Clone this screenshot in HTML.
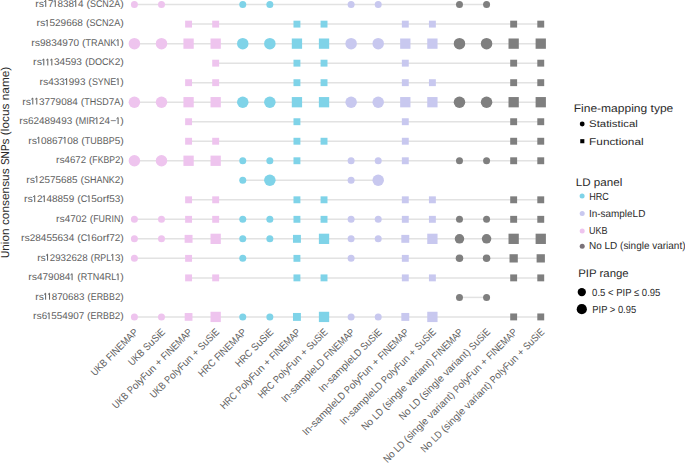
<!DOCTYPE html>
<html><head><meta charset="utf-8"><style>
html,body{margin:0;padding:0;background:#fff;}
svg{display:block;}
text{font-family:"Liberation Sans",sans-serif;text-rendering:geometricPrecision;}
.yl text{font-size:9.8px;fill:#5E5E5E;}
.yl path{fill:none;stroke:#5E5E5E;stroke-width:1.0;stroke-linejoin:miter;}
.xl text{font-size:10.2px;fill:#5E5E5E;}
.lg text{font-size:10.3px;fill:#2A2A2A;}
.lg text.t{font-size:11px;}
</style></head><body>
<svg width="685" height="463" viewBox="0 0 685 463">
<rect width="685" height="463" fill="#fff"/>
<g stroke="#E2E2E2" stroke-width="1.5">
<line x1="134.40" y1="4.60" x2="486.57" y2="4.60"/>
<line x1="188.58" y1="24.12" x2="540.75" y2="24.12"/>
<line x1="134.40" y1="43.64" x2="540.75" y2="43.64"/>
<line x1="215.67" y1="63.16" x2="540.75" y2="63.16"/>
<line x1="188.58" y1="82.68" x2="540.75" y2="82.68"/>
<line x1="134.40" y1="102.20" x2="540.75" y2="102.20"/>
<line x1="188.58" y1="121.72" x2="540.75" y2="121.72"/>
<line x1="188.58" y1="141.24" x2="540.75" y2="141.24"/>
<line x1="134.40" y1="160.76" x2="540.75" y2="160.76"/>
<line x1="242.76" y1="180.28" x2="378.21" y2="180.28"/>
<line x1="188.58" y1="199.80" x2="540.75" y2="199.80"/>
<line x1="134.40" y1="219.32" x2="540.75" y2="219.32"/>
<line x1="134.40" y1="238.84" x2="540.75" y2="238.84"/>
<line x1="134.40" y1="258.36" x2="540.75" y2="258.36"/>
<line x1="188.58" y1="277.88" x2="540.75" y2="277.88"/>
<line x1="459.48" y1="297.40" x2="486.57" y2="297.40"/>
<line x1="134.40" y1="316.92" x2="540.75" y2="316.92"/>
</g>
<g>
<circle cx="134.40" cy="4.60" r="3.50" fill="#EEC4EE"/>
<circle cx="161.49" cy="4.60" r="3.50" fill="#EEC4EE"/>
<circle cx="242.76" cy="4.60" r="3.50" fill="#7FD3E8"/>
<circle cx="269.85" cy="4.60" r="3.50" fill="#7FD3E8"/>
<circle cx="351.12" cy="4.60" r="3.50" fill="#C8C8EF"/>
<circle cx="378.21" cy="4.60" r="3.50" fill="#C8C8EF"/>
<circle cx="459.48" cy="4.60" r="3.50" fill="#7F7F7F"/>
<circle cx="486.57" cy="4.60" r="3.50" fill="#7F7F7F"/>
<rect x="185.13" y="20.67" width="6.90" height="6.90" fill="#EEC4EE"/>
<rect x="212.22" y="20.67" width="6.90" height="6.90" fill="#EEC4EE"/>
<rect x="293.49" y="20.67" width="6.90" height="6.90" fill="#7FD3E8"/>
<rect x="320.58" y="20.67" width="6.90" height="6.90" fill="#7FD3E8"/>
<rect x="401.85" y="20.67" width="6.90" height="6.90" fill="#C8C8EF"/>
<rect x="428.94" y="20.67" width="6.90" height="6.90" fill="#C8C8EF"/>
<rect x="510.21" y="20.67" width="6.90" height="6.90" fill="#7F7F7F"/>
<rect x="537.30" y="20.67" width="6.90" height="6.90" fill="#7F7F7F"/>
<circle cx="134.40" cy="43.64" r="5.75" fill="#EEC4EE"/>
<circle cx="161.49" cy="43.64" r="5.75" fill="#EEC4EE"/>
<rect x="183.43" y="38.49" width="10.30" height="10.30" fill="#EEC4EE"/>
<rect x="210.52" y="38.49" width="10.30" height="10.30" fill="#EEC4EE"/>
<circle cx="242.76" cy="43.64" r="5.75" fill="#7FD3E8"/>
<circle cx="269.85" cy="43.64" r="5.75" fill="#7FD3E8"/>
<rect x="291.79" y="38.49" width="10.30" height="10.30" fill="#7FD3E8"/>
<rect x="318.88" y="38.49" width="10.30" height="10.30" fill="#7FD3E8"/>
<circle cx="351.12" cy="43.64" r="5.75" fill="#C8C8EF"/>
<circle cx="378.21" cy="43.64" r="5.75" fill="#C8C8EF"/>
<rect x="400.15" y="38.49" width="10.30" height="10.30" fill="#C8C8EF"/>
<rect x="427.24" y="38.49" width="10.30" height="10.30" fill="#C8C8EF"/>
<circle cx="459.48" cy="43.64" r="5.75" fill="#7F7F7F"/>
<circle cx="486.57" cy="43.64" r="5.75" fill="#7F7F7F"/>
<rect x="508.51" y="38.49" width="10.30" height="10.30" fill="#7F7F7F"/>
<rect x="535.60" y="38.49" width="10.30" height="10.30" fill="#7F7F7F"/>
<rect x="212.22" y="59.71" width="6.90" height="6.90" fill="#EEC4EE"/>
<rect x="293.49" y="59.71" width="6.90" height="6.90" fill="#7FD3E8"/>
<rect x="320.58" y="59.71" width="6.90" height="6.90" fill="#7FD3E8"/>
<rect x="401.85" y="59.71" width="6.90" height="6.90" fill="#C8C8EF"/>
<rect x="510.21" y="59.71" width="6.90" height="6.90" fill="#7F7F7F"/>
<rect x="537.30" y="59.71" width="6.90" height="6.90" fill="#7F7F7F"/>
<rect x="185.13" y="79.23" width="6.90" height="6.90" fill="#EEC4EE"/>
<rect x="212.22" y="79.23" width="6.90" height="6.90" fill="#EEC4EE"/>
<rect x="293.49" y="79.23" width="6.90" height="6.90" fill="#7FD3E8"/>
<rect x="320.58" y="79.23" width="6.90" height="6.90" fill="#7FD3E8"/>
<rect x="401.85" y="79.23" width="6.90" height="6.90" fill="#C8C8EF"/>
<rect x="428.94" y="79.23" width="6.90" height="6.90" fill="#C8C8EF"/>
<rect x="510.21" y="79.23" width="6.90" height="6.90" fill="#7F7F7F"/>
<rect x="537.30" y="79.23" width="6.90" height="6.90" fill="#7F7F7F"/>
<circle cx="134.40" cy="102.20" r="5.75" fill="#EEC4EE"/>
<circle cx="161.49" cy="102.20" r="5.75" fill="#EEC4EE"/>
<rect x="183.43" y="97.05" width="10.30" height="10.30" fill="#EEC4EE"/>
<rect x="210.52" y="97.05" width="10.30" height="10.30" fill="#EEC4EE"/>
<circle cx="242.76" cy="102.20" r="5.75" fill="#7FD3E8"/>
<circle cx="269.85" cy="102.20" r="5.75" fill="#7FD3E8"/>
<rect x="291.79" y="97.05" width="10.30" height="10.30" fill="#7FD3E8"/>
<rect x="318.88" y="97.05" width="10.30" height="10.30" fill="#7FD3E8"/>
<circle cx="351.12" cy="102.20" r="5.75" fill="#C8C8EF"/>
<circle cx="378.21" cy="102.20" r="5.75" fill="#C8C8EF"/>
<rect x="400.15" y="97.05" width="10.30" height="10.30" fill="#C8C8EF"/>
<rect x="427.24" y="97.05" width="10.30" height="10.30" fill="#C8C8EF"/>
<circle cx="459.48" cy="102.20" r="5.75" fill="#7F7F7F"/>
<circle cx="486.57" cy="102.20" r="5.75" fill="#7F7F7F"/>
<rect x="508.51" y="97.05" width="10.30" height="10.30" fill="#7F7F7F"/>
<rect x="535.60" y="97.05" width="10.30" height="10.30" fill="#7F7F7F"/>
<rect x="185.13" y="118.27" width="6.90" height="6.90" fill="#EEC4EE"/>
<rect x="293.49" y="118.27" width="6.90" height="6.90" fill="#7FD3E8"/>
<rect x="401.85" y="118.27" width="6.90" height="6.90" fill="#C8C8EF"/>
<rect x="510.21" y="118.27" width="6.90" height="6.90" fill="#7F7F7F"/>
<rect x="537.30" y="118.27" width="6.90" height="6.90" fill="#7F7F7F"/>
<rect x="185.13" y="137.79" width="6.90" height="6.90" fill="#EEC4EE"/>
<rect x="212.22" y="137.79" width="6.90" height="6.90" fill="#EEC4EE"/>
<rect x="293.49" y="137.79" width="6.90" height="6.90" fill="#7FD3E8"/>
<rect x="320.58" y="137.79" width="6.90" height="6.90" fill="#7FD3E8"/>
<rect x="401.85" y="137.79" width="6.90" height="6.90" fill="#C8C8EF"/>
<rect x="510.21" y="137.79" width="6.90" height="6.90" fill="#7F7F7F"/>
<rect x="537.30" y="137.79" width="6.90" height="6.90" fill="#7F7F7F"/>
<circle cx="134.40" cy="160.76" r="5.75" fill="#EEC4EE"/>
<circle cx="161.49" cy="160.76" r="5.75" fill="#EEC4EE"/>
<rect x="183.43" y="155.61" width="10.30" height="10.30" fill="#EEC4EE"/>
<rect x="210.52" y="155.61" width="10.30" height="10.30" fill="#EEC4EE"/>
<circle cx="242.76" cy="160.76" r="3.50" fill="#7FD3E8"/>
<circle cx="269.85" cy="160.76" r="3.50" fill="#7FD3E8"/>
<rect x="293.49" y="157.31" width="6.90" height="6.90" fill="#7FD3E8"/>
<circle cx="351.12" cy="160.76" r="3.50" fill="#C8C8EF"/>
<circle cx="378.21" cy="160.76" r="3.50" fill="#C8C8EF"/>
<rect x="401.85" y="157.31" width="6.90" height="6.90" fill="#C8C8EF"/>
<circle cx="459.48" cy="160.76" r="3.50" fill="#7F7F7F"/>
<circle cx="486.57" cy="160.76" r="3.50" fill="#7F7F7F"/>
<rect x="510.21" y="157.31" width="6.90" height="6.90" fill="#7F7F7F"/>
<rect x="537.30" y="157.31" width="6.90" height="6.90" fill="#7F7F7F"/>
<circle cx="242.76" cy="180.28" r="3.50" fill="#7FD3E8"/>
<circle cx="269.85" cy="180.28" r="5.75" fill="#7FD3E8"/>
<circle cx="351.12" cy="180.28" r="3.50" fill="#C8C8EF"/>
<circle cx="378.21" cy="180.28" r="5.75" fill="#C8C8EF"/>
<rect x="185.13" y="196.35" width="6.90" height="6.90" fill="#EEC4EE"/>
<rect x="212.22" y="196.35" width="6.90" height="6.90" fill="#EEC4EE"/>
<rect x="293.49" y="196.35" width="6.90" height="6.90" fill="#7FD3E8"/>
<rect x="320.58" y="196.35" width="6.90" height="6.90" fill="#7FD3E8"/>
<rect x="401.85" y="196.35" width="6.90" height="6.90" fill="#C8C8EF"/>
<rect x="428.94" y="196.35" width="6.90" height="6.90" fill="#C8C8EF"/>
<rect x="510.21" y="196.35" width="6.90" height="6.90" fill="#7F7F7F"/>
<rect x="537.30" y="196.35" width="6.90" height="6.90" fill="#7F7F7F"/>
<circle cx="134.40" cy="219.32" r="3.50" fill="#EEC4EE"/>
<circle cx="161.49" cy="219.32" r="3.50" fill="#EEC4EE"/>
<rect x="185.13" y="215.87" width="6.90" height="6.90" fill="#EEC4EE"/>
<rect x="212.22" y="215.87" width="6.90" height="6.90" fill="#EEC4EE"/>
<circle cx="242.76" cy="219.32" r="3.50" fill="#7FD3E8"/>
<circle cx="269.85" cy="219.32" r="3.50" fill="#7FD3E8"/>
<rect x="293.49" y="215.87" width="6.90" height="6.90" fill="#7FD3E8"/>
<rect x="320.58" y="215.87" width="6.90" height="6.90" fill="#7FD3E8"/>
<circle cx="351.12" cy="219.32" r="3.50" fill="#C8C8EF"/>
<circle cx="378.21" cy="219.32" r="3.50" fill="#C8C8EF"/>
<rect x="401.85" y="215.87" width="6.90" height="6.90" fill="#C8C8EF"/>
<rect x="428.94" y="215.87" width="6.90" height="6.90" fill="#C8C8EF"/>
<circle cx="459.48" cy="219.32" r="3.50" fill="#7F7F7F"/>
<circle cx="486.57" cy="219.32" r="3.50" fill="#7F7F7F"/>
<rect x="510.21" y="215.87" width="6.90" height="6.90" fill="#7F7F7F"/>
<rect x="537.30" y="215.87" width="6.90" height="6.90" fill="#7F7F7F"/>
<circle cx="134.40" cy="238.84" r="3.50" fill="#EEC4EE"/>
<circle cx="161.49" cy="238.84" r="3.50" fill="#EEC4EE"/>
<rect x="184.62" y="234.88" width="7.92" height="7.92" fill="#EEC4EE"/>
<rect x="210.52" y="233.69" width="10.30" height="10.30" fill="#EEC4EE"/>
<circle cx="242.76" cy="238.84" r="3.50" fill="#7FD3E8"/>
<circle cx="269.85" cy="238.84" r="3.50" fill="#7FD3E8"/>
<rect x="292.98" y="234.88" width="7.92" height="7.92" fill="#7FD3E8"/>
<rect x="318.88" y="233.69" width="10.30" height="10.30" fill="#7FD3E8"/>
<circle cx="351.12" cy="238.84" r="3.50" fill="#C8C8EF"/>
<circle cx="378.21" cy="238.84" r="3.50" fill="#C8C8EF"/>
<rect x="401.34" y="234.88" width="7.92" height="7.92" fill="#C8C8EF"/>
<rect x="427.24" y="233.69" width="10.30" height="10.30" fill="#C8C8EF"/>
<circle cx="459.48" cy="238.84" r="4.75" fill="#7F7F7F"/>
<circle cx="486.57" cy="238.84" r="4.75" fill="#7F7F7F"/>
<rect x="508.51" y="233.69" width="10.30" height="10.30" fill="#7F7F7F"/>
<rect x="535.60" y="233.69" width="10.30" height="10.30" fill="#7F7F7F"/>
<circle cx="134.40" cy="258.36" r="3.50" fill="#EEC4EE"/>
<rect x="185.13" y="254.91" width="6.90" height="6.90" fill="#EEC4EE"/>
<circle cx="242.76" cy="258.36" r="3.50" fill="#7FD3E8"/>
<rect x="293.49" y="254.91" width="6.90" height="6.90" fill="#7FD3E8"/>
<circle cx="351.12" cy="258.36" r="3.50" fill="#C8C8EF"/>
<rect x="401.85" y="254.91" width="6.90" height="6.90" fill="#C8C8EF"/>
<circle cx="459.48" cy="258.36" r="3.75" fill="#7F7F7F"/>
<circle cx="486.57" cy="258.36" r="3.75" fill="#7F7F7F"/>
<rect x="509.52" y="254.22" width="8.28" height="8.28" fill="#7F7F7F"/>
<rect x="536.61" y="254.22" width="8.28" height="8.28" fill="#7F7F7F"/>
<rect x="185.13" y="274.43" width="6.90" height="6.90" fill="#EEC4EE"/>
<rect x="212.22" y="274.43" width="6.90" height="6.90" fill="#EEC4EE"/>
<rect x="293.49" y="274.43" width="6.90" height="6.90" fill="#7FD3E8"/>
<rect x="320.58" y="274.43" width="6.90" height="6.90" fill="#7FD3E8"/>
<rect x="401.85" y="274.43" width="6.90" height="6.90" fill="#C8C8EF"/>
<rect x="428.94" y="274.43" width="6.90" height="6.90" fill="#C8C8EF"/>
<rect x="510.21" y="274.43" width="6.90" height="6.90" fill="#7F7F7F"/>
<rect x="537.30" y="274.43" width="6.90" height="6.90" fill="#7F7F7F"/>
<circle cx="459.48" cy="297.40" r="3.50" fill="#7F7F7F"/>
<circle cx="486.57" cy="297.40" r="3.50" fill="#7F7F7F"/>
<circle cx="134.40" cy="316.92" r="3.50" fill="#EEC4EE"/>
<circle cx="161.49" cy="316.92" r="3.50" fill="#EEC4EE"/>
<rect x="184.71" y="313.05" width="7.74" height="7.74" fill="#EEC4EE"/>
<rect x="210.52" y="311.77" width="10.30" height="10.30" fill="#EEC4EE"/>
<circle cx="242.76" cy="316.92" r="3.50" fill="#7FD3E8"/>
<circle cx="269.85" cy="316.92" r="3.50" fill="#7FD3E8"/>
<rect x="292.98" y="312.96" width="7.92" height="7.92" fill="#7FD3E8"/>
<rect x="318.88" y="311.77" width="10.30" height="10.30" fill="#7FD3E8"/>
<circle cx="351.12" cy="316.92" r="3.50" fill="#C8C8EF"/>
<circle cx="378.21" cy="316.92" r="3.50" fill="#C8C8EF"/>
<rect x="401.34" y="312.96" width="7.92" height="7.92" fill="#C8C8EF"/>
<rect x="427.24" y="311.77" width="10.30" height="10.30" fill="#C8C8EF"/>
<rect x="510.21" y="313.47" width="6.90" height="6.90" fill="#7F7F7F"/>
<rect x="537.30" y="313.47" width="6.90" height="6.90" fill="#7F7F7F"/>
</g>
<g class="yl">
<text x="35.20" y="6.90" textLength="3.51" lengthAdjust="spacingAndGlyphs">r</text>
<text x="38.71" y="6.90" textLength="5.27" lengthAdjust="spacingAndGlyphs">s</text>
<path d="M45.76 6.90V0.40L44.16 1.70"/>
<text x="47.94" y="6.90" textLength="5.52" lengthAdjust="spacingAndGlyphs">7</text>
<path d="M55.25 6.90V0.40L53.65 1.70"/>
<text x="57.43" y="6.90" textLength="5.52" lengthAdjust="spacingAndGlyphs">8</text>
<text x="62.95" y="6.90" textLength="5.52" lengthAdjust="spacingAndGlyphs">3</text>
<text x="68.47" y="6.90" textLength="5.52" lengthAdjust="spacingAndGlyphs">8</text>
<path d="M75.77 6.90V0.40L74.17 1.70"/>
<text x="77.96" y="6.90" textLength="5.52" lengthAdjust="spacingAndGlyphs">4</text>
<text x="86.40" y="6.90" textLength="3.51" lengthAdjust="spacingAndGlyphs">(</text>
<text x="89.91" y="6.90" textLength="5.97" lengthAdjust="spacingAndGlyphs">S</text>
<text x="95.88" y="6.90" textLength="6.46" lengthAdjust="spacingAndGlyphs">C</text>
<text x="102.34" y="6.90" textLength="6.46" lengthAdjust="spacingAndGlyphs">N</text>
<text x="108.80" y="6.90" textLength="5.52" lengthAdjust="spacingAndGlyphs">2</text>
<text x="114.32" y="6.90" textLength="5.97" lengthAdjust="spacingAndGlyphs">A</text>
<text x="120.29" y="6.90" textLength="3.51" lengthAdjust="spacingAndGlyphs">)</text>
<text x="36.50" y="26.42" textLength="3.55" lengthAdjust="spacingAndGlyphs">r</text>
<text x="40.05" y="26.42" textLength="5.33" lengthAdjust="spacingAndGlyphs">s</text>
<path d="M47.20 26.42V19.92L45.60 21.22"/>
<text x="49.41" y="26.42" textLength="5.59" lengthAdjust="spacingAndGlyphs">5</text>
<text x="55.00" y="26.42" textLength="5.59" lengthAdjust="spacingAndGlyphs">2</text>
<text x="60.59" y="26.42" textLength="5.59" lengthAdjust="spacingAndGlyphs">9</text>
<text x="66.18" y="26.42" textLength="5.59" lengthAdjust="spacingAndGlyphs">6</text>
<text x="71.77" y="26.42" textLength="5.59" lengthAdjust="spacingAndGlyphs">6</text>
<text x="77.36" y="26.42" textLength="5.59" lengthAdjust="spacingAndGlyphs">8</text>
<text x="85.91" y="26.42" textLength="3.55" lengthAdjust="spacingAndGlyphs">(</text>
<text x="89.46" y="26.42" textLength="6.05" lengthAdjust="spacingAndGlyphs">S</text>
<text x="95.51" y="26.42" textLength="6.55" lengthAdjust="spacingAndGlyphs">C</text>
<text x="102.06" y="26.42" textLength="6.55" lengthAdjust="spacingAndGlyphs">N</text>
<text x="108.61" y="26.42" textLength="5.59" lengthAdjust="spacingAndGlyphs">2</text>
<text x="114.20" y="26.42" textLength="6.05" lengthAdjust="spacingAndGlyphs">A</text>
<text x="120.25" y="26.42" textLength="3.55" lengthAdjust="spacingAndGlyphs">)</text>
<text x="31.20" y="45.94" textLength="3.54" lengthAdjust="spacingAndGlyphs">r</text>
<text x="34.74" y="45.94" textLength="5.32" lengthAdjust="spacingAndGlyphs">s</text>
<text x="40.06" y="45.94" textLength="5.58" lengthAdjust="spacingAndGlyphs">9</text>
<text x="45.64" y="45.94" textLength="5.58" lengthAdjust="spacingAndGlyphs">8</text>
<text x="51.21" y="45.94" textLength="5.58" lengthAdjust="spacingAndGlyphs">3</text>
<text x="56.79" y="45.94" textLength="5.58" lengthAdjust="spacingAndGlyphs">4</text>
<text x="62.37" y="45.94" textLength="5.58" lengthAdjust="spacingAndGlyphs">9</text>
<text x="67.94" y="45.94" textLength="5.58" lengthAdjust="spacingAndGlyphs">7</text>
<text x="73.52" y="45.94" textLength="5.58" lengthAdjust="spacingAndGlyphs">0</text>
<text x="82.05" y="45.94" textLength="3.54" lengthAdjust="spacingAndGlyphs">(</text>
<text x="85.59" y="45.94" textLength="5.52" lengthAdjust="spacingAndGlyphs">T</text>
<text x="91.12" y="45.94" textLength="6.53" lengthAdjust="spacingAndGlyphs">R</text>
<text x="97.65" y="45.94" textLength="6.03" lengthAdjust="spacingAndGlyphs">A</text>
<text x="103.68" y="45.94" textLength="6.53" lengthAdjust="spacingAndGlyphs">N</text>
<text x="110.21" y="45.94" textLength="6.03" lengthAdjust="spacingAndGlyphs">K</text>
<path d="M118.05 45.94V39.44L116.45 40.74"/>
<text x="120.26" y="45.94" textLength="3.54" lengthAdjust="spacingAndGlyphs">)</text>
<text x="33.10" y="65.46" textLength="3.55" lengthAdjust="spacingAndGlyphs">r</text>
<text x="36.65" y="65.46" textLength="5.33" lengthAdjust="spacingAndGlyphs">s</text>
<path d="M43.79 65.46V58.96L42.19 60.26"/>
<path d="M47.81 65.46V58.96L46.21 60.26"/>
<path d="M51.83 65.46V58.96L50.23 60.26"/>
<text x="54.04" y="65.46" textLength="5.59" lengthAdjust="spacingAndGlyphs">3</text>
<text x="59.62" y="65.46" textLength="5.59" lengthAdjust="spacingAndGlyphs">4</text>
<text x="65.21" y="65.46" textLength="5.59" lengthAdjust="spacingAndGlyphs">5</text>
<text x="70.80" y="65.46" textLength="5.59" lengthAdjust="spacingAndGlyphs">9</text>
<text x="76.38" y="65.46" textLength="5.59" lengthAdjust="spacingAndGlyphs">3</text>
<text x="84.93" y="65.46" textLength="3.55" lengthAdjust="spacingAndGlyphs">(</text>
<text x="88.48" y="65.46" textLength="6.54" lengthAdjust="spacingAndGlyphs">D</text>
<text x="95.03" y="65.46" textLength="7.05" lengthAdjust="spacingAndGlyphs">O</text>
<text x="102.08" y="65.46" textLength="6.54" lengthAdjust="spacingAndGlyphs">C</text>
<text x="108.62" y="65.46" textLength="6.04" lengthAdjust="spacingAndGlyphs">K</text>
<text x="114.66" y="65.46" textLength="5.59" lengthAdjust="spacingAndGlyphs">2</text>
<text x="120.25" y="65.46" textLength="3.55" lengthAdjust="spacingAndGlyphs">)</text>
<text x="39.50" y="84.98" textLength="3.51" lengthAdjust="spacingAndGlyphs">r</text>
<text x="43.01" y="84.98" textLength="5.28" lengthAdjust="spacingAndGlyphs">s</text>
<text x="48.29" y="84.98" textLength="5.53" lengthAdjust="spacingAndGlyphs">4</text>
<text x="53.82" y="84.98" textLength="5.53" lengthAdjust="spacingAndGlyphs">3</text>
<text x="59.35" y="84.98" textLength="5.53" lengthAdjust="spacingAndGlyphs">3</text>
<path d="M66.67 84.98V78.48L65.07 79.78"/>
<text x="68.85" y="84.98" textLength="5.53" lengthAdjust="spacingAndGlyphs">9</text>
<text x="74.38" y="84.98" textLength="5.53" lengthAdjust="spacingAndGlyphs">9</text>
<text x="79.91" y="84.98" textLength="5.53" lengthAdjust="spacingAndGlyphs">3</text>
<text x="88.37" y="84.98" textLength="3.51" lengthAdjust="spacingAndGlyphs">(</text>
<text x="91.89" y="84.98" textLength="5.98" lengthAdjust="spacingAndGlyphs">S</text>
<text x="97.87" y="84.98" textLength="5.98" lengthAdjust="spacingAndGlyphs">Y</text>
<text x="103.85" y="84.98" textLength="6.48" lengthAdjust="spacingAndGlyphs">N</text>
<text x="110.33" y="84.98" textLength="5.98" lengthAdjust="spacingAndGlyphs">E</text>
<path d="M118.10 84.98V78.48L116.50 79.78"/>
<text x="120.29" y="84.98" textLength="3.51" lengthAdjust="spacingAndGlyphs">)</text>
<text x="22.20" y="104.50" textLength="3.52" lengthAdjust="spacingAndGlyphs">r</text>
<text x="25.72" y="104.50" textLength="5.29" lengthAdjust="spacingAndGlyphs">s</text>
<path d="M32.81 104.50V98.00L31.21 99.30"/>
<path d="M36.80 104.50V98.00L35.20 99.30"/>
<text x="38.99" y="104.50" textLength="5.54" lengthAdjust="spacingAndGlyphs">3</text>
<text x="44.53" y="104.50" textLength="5.54" lengthAdjust="spacingAndGlyphs">7</text>
<text x="50.08" y="104.50" textLength="5.54" lengthAdjust="spacingAndGlyphs">7</text>
<text x="55.62" y="104.50" textLength="5.54" lengthAdjust="spacingAndGlyphs">9</text>
<text x="61.16" y="104.50" textLength="5.54" lengthAdjust="spacingAndGlyphs">0</text>
<text x="66.71" y="104.50" textLength="5.54" lengthAdjust="spacingAndGlyphs">8</text>
<text x="72.25" y="104.50" textLength="5.54" lengthAdjust="spacingAndGlyphs">4</text>
<text x="80.73" y="104.50" textLength="3.52" lengthAdjust="spacingAndGlyphs">(</text>
<text x="84.26" y="104.50" textLength="5.49" lengthAdjust="spacingAndGlyphs">T</text>
<text x="89.75" y="104.50" textLength="6.49" lengthAdjust="spacingAndGlyphs">H</text>
<text x="96.24" y="104.50" textLength="6.00" lengthAdjust="spacingAndGlyphs">S</text>
<text x="102.24" y="104.50" textLength="6.49" lengthAdjust="spacingAndGlyphs">D</text>
<text x="108.74" y="104.50" textLength="5.54" lengthAdjust="spacingAndGlyphs">7</text>
<text x="114.28" y="104.50" textLength="6.00" lengthAdjust="spacingAndGlyphs">A</text>
<text x="120.28" y="104.50" textLength="3.52" lengthAdjust="spacingAndGlyphs">)</text>
<text x="19.20" y="124.02" textLength="3.51" lengthAdjust="spacingAndGlyphs">r</text>
<text x="22.71" y="124.02" textLength="5.28" lengthAdjust="spacingAndGlyphs">s</text>
<text x="27.99" y="124.02" textLength="5.53" lengthAdjust="spacingAndGlyphs">6</text>
<text x="33.52" y="124.02" textLength="5.53" lengthAdjust="spacingAndGlyphs">2</text>
<text x="39.05" y="124.02" textLength="5.53" lengthAdjust="spacingAndGlyphs">4</text>
<text x="44.58" y="124.02" textLength="5.53" lengthAdjust="spacingAndGlyphs">8</text>
<text x="50.11" y="124.02" textLength="5.53" lengthAdjust="spacingAndGlyphs">9</text>
<text x="55.64" y="124.02" textLength="5.53" lengthAdjust="spacingAndGlyphs">4</text>
<text x="61.17" y="124.02" textLength="5.53" lengthAdjust="spacingAndGlyphs">9</text>
<text x="66.69" y="124.02" textLength="5.53" lengthAdjust="spacingAndGlyphs">3</text>
<text x="75.16" y="124.02" textLength="3.51" lengthAdjust="spacingAndGlyphs">(</text>
<text x="78.67" y="124.02" textLength="7.47" lengthAdjust="spacingAndGlyphs">M</text>
<text x="86.14" y="124.02" textLength="2.49" lengthAdjust="spacingAndGlyphs">I</text>
<text x="88.63" y="124.02" textLength="6.48" lengthAdjust="spacingAndGlyphs">R</text>
<path d="M96.90 124.02V117.52L95.30 118.82"/>
<text x="99.09" y="124.02" textLength="5.53" lengthAdjust="spacingAndGlyphs">2</text>
<text x="104.62" y="124.02" textLength="5.53" lengthAdjust="spacingAndGlyphs">4</text>
<text x="110.15" y="124.02" textLength="6.16" lengthAdjust="spacingAndGlyphs">−</text>
<path d="M118.10 124.02V117.52L116.50 118.82"/>
<text x="120.29" y="124.02" textLength="3.51" lengthAdjust="spacingAndGlyphs">)</text>
<text x="28.20" y="143.54" textLength="3.52" lengthAdjust="spacingAndGlyphs">r</text>
<text x="31.72" y="143.54" textLength="5.29" lengthAdjust="spacingAndGlyphs">s</text>
<path d="M38.81 143.54V137.04L37.21 138.34"/>
<text x="41.01" y="143.54" textLength="5.55" lengthAdjust="spacingAndGlyphs">0</text>
<text x="46.55" y="143.54" textLength="5.55" lengthAdjust="spacingAndGlyphs">8</text>
<text x="52.10" y="143.54" textLength="5.55" lengthAdjust="spacingAndGlyphs">6</text>
<text x="57.64" y="143.54" textLength="5.55" lengthAdjust="spacingAndGlyphs">7</text>
<path d="M64.99 143.54V137.04L63.39 138.34"/>
<text x="67.18" y="143.54" textLength="5.55" lengthAdjust="spacingAndGlyphs">0</text>
<text x="72.73" y="143.54" textLength="5.55" lengthAdjust="spacingAndGlyphs">8</text>
<text x="81.21" y="143.54" textLength="3.52" lengthAdjust="spacingAndGlyphs">(</text>
<text x="84.74" y="143.54" textLength="5.50" lengthAdjust="spacingAndGlyphs">T</text>
<text x="90.23" y="143.54" textLength="6.50" lengthAdjust="spacingAndGlyphs">U</text>
<text x="96.73" y="143.54" textLength="6.00" lengthAdjust="spacingAndGlyphs">B</text>
<text x="102.73" y="143.54" textLength="6.00" lengthAdjust="spacingAndGlyphs">B</text>
<text x="108.73" y="143.54" textLength="6.00" lengthAdjust="spacingAndGlyphs">P</text>
<text x="114.73" y="143.54" textLength="5.55" lengthAdjust="spacingAndGlyphs">5</text>
<text x="120.28" y="143.54" textLength="3.52" lengthAdjust="spacingAndGlyphs">)</text>
<text x="56.10" y="163.06" textLength="3.41" lengthAdjust="spacingAndGlyphs">r</text>
<text x="59.51" y="163.06" textLength="5.12" lengthAdjust="spacingAndGlyphs">s</text>
<text x="64.62" y="163.06" textLength="5.36" lengthAdjust="spacingAndGlyphs">4</text>
<text x="69.98" y="163.06" textLength="5.36" lengthAdjust="spacingAndGlyphs">6</text>
<text x="75.35" y="163.06" textLength="5.36" lengthAdjust="spacingAndGlyphs">7</text>
<text x="80.71" y="163.06" textLength="5.36" lengthAdjust="spacingAndGlyphs">2</text>
<text x="88.91" y="163.06" textLength="3.41" lengthAdjust="spacingAndGlyphs">(</text>
<text x="92.32" y="163.06" textLength="5.31" lengthAdjust="spacingAndGlyphs">F</text>
<text x="97.63" y="163.06" textLength="5.80" lengthAdjust="spacingAndGlyphs">K</text>
<text x="103.43" y="163.06" textLength="5.80" lengthAdjust="spacingAndGlyphs">B</text>
<text x="109.23" y="163.06" textLength="5.80" lengthAdjust="spacingAndGlyphs">P</text>
<text x="115.03" y="163.06" textLength="5.36" lengthAdjust="spacingAndGlyphs">2</text>
<text x="120.39" y="163.06" textLength="3.41" lengthAdjust="spacingAndGlyphs">)</text>
<text x="26.30" y="182.58" textLength="3.50" lengthAdjust="spacingAndGlyphs">r</text>
<text x="29.80" y="182.58" textLength="5.26" lengthAdjust="spacingAndGlyphs">s</text>
<path d="M36.84 182.58V176.08L35.24 177.38"/>
<text x="39.02" y="182.58" textLength="5.51" lengthAdjust="spacingAndGlyphs">2</text>
<text x="44.53" y="182.58" textLength="5.51" lengthAdjust="spacingAndGlyphs">5</text>
<text x="50.04" y="182.58" textLength="5.51" lengthAdjust="spacingAndGlyphs">7</text>
<text x="55.55" y="182.58" textLength="5.51" lengthAdjust="spacingAndGlyphs">5</text>
<text x="61.06" y="182.58" textLength="5.51" lengthAdjust="spacingAndGlyphs">6</text>
<text x="66.56" y="182.58" textLength="5.51" lengthAdjust="spacingAndGlyphs">8</text>
<text x="72.07" y="182.58" textLength="5.51" lengthAdjust="spacingAndGlyphs">5</text>
<text x="80.50" y="182.58" textLength="3.50" lengthAdjust="spacingAndGlyphs">(</text>
<text x="84.00" y="182.58" textLength="5.96" lengthAdjust="spacingAndGlyphs">S</text>
<text x="89.96" y="182.58" textLength="6.45" lengthAdjust="spacingAndGlyphs">H</text>
<text x="96.42" y="182.58" textLength="5.96" lengthAdjust="spacingAndGlyphs">A</text>
<text x="102.38" y="182.58" textLength="6.45" lengthAdjust="spacingAndGlyphs">N</text>
<text x="108.83" y="182.58" textLength="5.96" lengthAdjust="spacingAndGlyphs">K</text>
<text x="114.79" y="182.58" textLength="5.51" lengthAdjust="spacingAndGlyphs">2</text>
<text x="120.30" y="182.58" textLength="3.50" lengthAdjust="spacingAndGlyphs">)</text>
<text x="24.10" y="202.10" textLength="3.53" lengthAdjust="spacingAndGlyphs">r</text>
<text x="27.63" y="202.10" textLength="5.30" lengthAdjust="spacingAndGlyphs">s</text>
<path d="M34.73 202.10V195.60L33.13 196.90"/>
<text x="36.93" y="202.10" textLength="5.55" lengthAdjust="spacingAndGlyphs">2</text>
<path d="M44.28 202.10V195.60L42.68 196.90"/>
<text x="46.48" y="202.10" textLength="5.55" lengthAdjust="spacingAndGlyphs">4</text>
<text x="52.03" y="202.10" textLength="5.55" lengthAdjust="spacingAndGlyphs">8</text>
<text x="57.59" y="202.10" textLength="5.55" lengthAdjust="spacingAndGlyphs">8</text>
<text x="63.14" y="202.10" textLength="5.55" lengthAdjust="spacingAndGlyphs">5</text>
<text x="68.70" y="202.10" textLength="5.55" lengthAdjust="spacingAndGlyphs">9</text>
<text x="77.20" y="202.10" textLength="3.53" lengthAdjust="spacingAndGlyphs">(</text>
<text x="80.73" y="202.10" textLength="6.51" lengthAdjust="spacingAndGlyphs">C</text>
<path d="M89.04 202.10V195.60L87.44 196.90"/>
<text x="91.23" y="202.10" textLength="5.55" lengthAdjust="spacingAndGlyphs">5</text>
<text x="96.79" y="202.10" textLength="5.90" lengthAdjust="spacingAndGlyphs">o</text>
<text x="102.68" y="202.10" textLength="3.53" lengthAdjust="spacingAndGlyphs">r</text>
<text x="106.21" y="202.10" textLength="2.95" lengthAdjust="spacingAndGlyphs">f</text>
<text x="109.16" y="202.10" textLength="5.55" lengthAdjust="spacingAndGlyphs">5</text>
<text x="114.71" y="202.10" textLength="5.55" lengthAdjust="spacingAndGlyphs">3</text>
<text x="120.27" y="202.10" textLength="3.53" lengthAdjust="spacingAndGlyphs">)</text>
<text x="56.10" y="221.62" textLength="3.48" lengthAdjust="spacingAndGlyphs">r</text>
<text x="59.58" y="221.62" textLength="5.23" lengthAdjust="spacingAndGlyphs">s</text>
<text x="64.82" y="221.62" textLength="5.48" lengthAdjust="spacingAndGlyphs">4</text>
<text x="70.30" y="221.62" textLength="5.48" lengthAdjust="spacingAndGlyphs">7</text>
<text x="75.78" y="221.62" textLength="5.48" lengthAdjust="spacingAndGlyphs">0</text>
<text x="81.27" y="221.62" textLength="5.48" lengthAdjust="spacingAndGlyphs">2</text>
<text x="89.66" y="221.62" textLength="3.48" lengthAdjust="spacingAndGlyphs">(</text>
<text x="93.14" y="221.62" textLength="5.43" lengthAdjust="spacingAndGlyphs">F</text>
<text x="98.57" y="221.62" textLength="6.42" lengthAdjust="spacingAndGlyphs">U</text>
<text x="105.00" y="221.62" textLength="6.42" lengthAdjust="spacingAndGlyphs">R</text>
<text x="111.42" y="221.62" textLength="2.47" lengthAdjust="spacingAndGlyphs">I</text>
<text x="113.89" y="221.62" textLength="6.42" lengthAdjust="spacingAndGlyphs">N</text>
<text x="120.32" y="221.62" textLength="3.48" lengthAdjust="spacingAndGlyphs">)</text>
<text x="20.90" y="241.14" textLength="3.53" lengthAdjust="spacingAndGlyphs">r</text>
<text x="24.43" y="241.14" textLength="5.30" lengthAdjust="spacingAndGlyphs">s</text>
<text x="29.74" y="241.14" textLength="5.56" lengthAdjust="spacingAndGlyphs">2</text>
<text x="35.30" y="241.14" textLength="5.56" lengthAdjust="spacingAndGlyphs">8</text>
<text x="40.86" y="241.14" textLength="5.56" lengthAdjust="spacingAndGlyphs">4</text>
<text x="46.42" y="241.14" textLength="5.56" lengthAdjust="spacingAndGlyphs">5</text>
<text x="51.98" y="241.14" textLength="5.56" lengthAdjust="spacingAndGlyphs">5</text>
<text x="57.54" y="241.14" textLength="5.56" lengthAdjust="spacingAndGlyphs">6</text>
<text x="63.09" y="241.14" textLength="5.56" lengthAdjust="spacingAndGlyphs">3</text>
<text x="68.65" y="241.14" textLength="5.56" lengthAdjust="spacingAndGlyphs">4</text>
<text x="77.16" y="241.14" textLength="3.53" lengthAdjust="spacingAndGlyphs">(</text>
<text x="80.69" y="241.14" textLength="6.51" lengthAdjust="spacingAndGlyphs">C</text>
<path d="M89.01 241.14V234.64L87.41 235.94"/>
<text x="91.21" y="241.14" textLength="5.56" lengthAdjust="spacingAndGlyphs">6</text>
<text x="96.77" y="241.14" textLength="5.90" lengthAdjust="spacingAndGlyphs">o</text>
<text x="102.67" y="241.14" textLength="3.53" lengthAdjust="spacingAndGlyphs">r</text>
<text x="106.20" y="241.14" textLength="2.95" lengthAdjust="spacingAndGlyphs">f</text>
<text x="109.15" y="241.14" textLength="5.56" lengthAdjust="spacingAndGlyphs">7</text>
<text x="114.71" y="241.14" textLength="5.56" lengthAdjust="spacingAndGlyphs">2</text>
<text x="120.27" y="241.14" textLength="3.53" lengthAdjust="spacingAndGlyphs">)</text>
<text x="37.20" y="260.66" textLength="3.44" lengthAdjust="spacingAndGlyphs">r</text>
<text x="40.64" y="260.66" textLength="5.17" lengthAdjust="spacingAndGlyphs">s</text>
<path d="M47.57 260.66V254.16L45.97 255.46"/>
<text x="49.71" y="260.66" textLength="5.42" lengthAdjust="spacingAndGlyphs">2</text>
<text x="55.13" y="260.66" textLength="5.42" lengthAdjust="spacingAndGlyphs">9</text>
<text x="60.54" y="260.66" textLength="5.42" lengthAdjust="spacingAndGlyphs">3</text>
<text x="65.96" y="260.66" textLength="5.42" lengthAdjust="spacingAndGlyphs">2</text>
<text x="71.38" y="260.66" textLength="5.42" lengthAdjust="spacingAndGlyphs">6</text>
<text x="76.80" y="260.66" textLength="5.42" lengthAdjust="spacingAndGlyphs">2</text>
<text x="82.21" y="260.66" textLength="5.42" lengthAdjust="spacingAndGlyphs">8</text>
<text x="90.50" y="260.66" textLength="3.44" lengthAdjust="spacingAndGlyphs">(</text>
<text x="93.95" y="260.66" textLength="6.35" lengthAdjust="spacingAndGlyphs">R</text>
<text x="100.29" y="260.66" textLength="5.86" lengthAdjust="spacingAndGlyphs">P</text>
<text x="106.15" y="260.66" textLength="4.89" lengthAdjust="spacingAndGlyphs">L</text>
<path d="M112.80 260.66V254.16L111.20 255.46"/>
<text x="114.94" y="260.66" textLength="5.42" lengthAdjust="spacingAndGlyphs">3</text>
<text x="120.36" y="260.66" textLength="3.44" lengthAdjust="spacingAndGlyphs">)</text>
<text x="28.20" y="280.18" textLength="3.52" lengthAdjust="spacingAndGlyphs">r</text>
<text x="31.72" y="280.18" textLength="5.29" lengthAdjust="spacingAndGlyphs">s</text>
<text x="37.02" y="280.18" textLength="5.55" lengthAdjust="spacingAndGlyphs">4</text>
<text x="42.56" y="280.18" textLength="5.55" lengthAdjust="spacingAndGlyphs">7</text>
<text x="48.11" y="280.18" textLength="5.55" lengthAdjust="spacingAndGlyphs">9</text>
<text x="53.66" y="280.18" textLength="5.55" lengthAdjust="spacingAndGlyphs">0</text>
<text x="59.20" y="280.18" textLength="5.55" lengthAdjust="spacingAndGlyphs">8</text>
<text x="64.75" y="280.18" textLength="5.55" lengthAdjust="spacingAndGlyphs">4</text>
<path d="M72.09 280.18V273.68L70.49 274.98"/>
<text x="77.22" y="280.18" textLength="3.52" lengthAdjust="spacingAndGlyphs">(</text>
<text x="80.75" y="280.18" textLength="6.50" lengthAdjust="spacingAndGlyphs">R</text>
<text x="87.25" y="280.18" textLength="5.50" lengthAdjust="spacingAndGlyphs">T</text>
<text x="92.74" y="280.18" textLength="6.50" lengthAdjust="spacingAndGlyphs">N</text>
<text x="99.24" y="280.18" textLength="5.55" lengthAdjust="spacingAndGlyphs">4</text>
<text x="104.78" y="280.18" textLength="6.50" lengthAdjust="spacingAndGlyphs">R</text>
<text x="111.28" y="280.18" textLength="5.00" lengthAdjust="spacingAndGlyphs">L</text>
<path d="M118.08 280.18V273.68L116.48 274.98"/>
<text x="120.28" y="280.18" textLength="3.52" lengthAdjust="spacingAndGlyphs">)</text>
<text x="35.20" y="299.70" textLength="3.47" lengthAdjust="spacingAndGlyphs">r</text>
<text x="38.67" y="299.70" textLength="5.20" lengthAdjust="spacingAndGlyphs">s</text>
<path d="M45.63 299.70V293.20L44.03 294.50"/>
<path d="M49.56 299.70V293.20L47.96 294.50"/>
<text x="51.72" y="299.70" textLength="5.45" lengthAdjust="spacingAndGlyphs">8</text>
<text x="57.17" y="299.70" textLength="5.45" lengthAdjust="spacingAndGlyphs">7</text>
<text x="62.62" y="299.70" textLength="5.45" lengthAdjust="spacingAndGlyphs">0</text>
<text x="68.08" y="299.70" textLength="5.45" lengthAdjust="spacingAndGlyphs">6</text>
<text x="73.53" y="299.70" textLength="5.45" lengthAdjust="spacingAndGlyphs">8</text>
<text x="78.98" y="299.70" textLength="5.45" lengthAdjust="spacingAndGlyphs">3</text>
<text x="87.33" y="299.70" textLength="3.47" lengthAdjust="spacingAndGlyphs">(</text>
<text x="90.79" y="299.70" textLength="5.90" lengthAdjust="spacingAndGlyphs">E</text>
<text x="96.69" y="299.70" textLength="6.39" lengthAdjust="spacingAndGlyphs">R</text>
<text x="103.08" y="299.70" textLength="5.90" lengthAdjust="spacingAndGlyphs">B</text>
<text x="108.98" y="299.70" textLength="5.90" lengthAdjust="spacingAndGlyphs">B</text>
<text x="114.88" y="299.70" textLength="5.45" lengthAdjust="spacingAndGlyphs">2</text>
<text x="120.33" y="299.70" textLength="3.47" lengthAdjust="spacingAndGlyphs">)</text>
<text x="33.10" y="319.22" textLength="3.49" lengthAdjust="spacingAndGlyphs">r</text>
<text x="36.59" y="319.22" textLength="5.24" lengthAdjust="spacingAndGlyphs">s</text>
<text x="41.82" y="319.22" textLength="5.49" lengthAdjust="spacingAndGlyphs">6</text>
<path d="M49.09 319.22V312.72L47.49 314.02"/>
<text x="51.26" y="319.22" textLength="5.49" lengthAdjust="spacingAndGlyphs">5</text>
<text x="56.75" y="319.22" textLength="5.49" lengthAdjust="spacingAndGlyphs">5</text>
<text x="62.24" y="319.22" textLength="5.49" lengthAdjust="spacingAndGlyphs">4</text>
<text x="67.72" y="319.22" textLength="5.49" lengthAdjust="spacingAndGlyphs">9</text>
<text x="73.21" y="319.22" textLength="5.49" lengthAdjust="spacingAndGlyphs">0</text>
<text x="78.70" y="319.22" textLength="5.49" lengthAdjust="spacingAndGlyphs">7</text>
<text x="87.10" y="319.22" textLength="3.49" lengthAdjust="spacingAndGlyphs">(</text>
<text x="90.58" y="319.22" textLength="5.94" lengthAdjust="spacingAndGlyphs">E</text>
<text x="96.52" y="319.22" textLength="6.43" lengthAdjust="spacingAndGlyphs">R</text>
<text x="102.95" y="319.22" textLength="5.94" lengthAdjust="spacingAndGlyphs">B</text>
<text x="108.89" y="319.22" textLength="5.94" lengthAdjust="spacingAndGlyphs">B</text>
<text x="114.82" y="319.22" textLength="5.49" lengthAdjust="spacingAndGlyphs">2</text>
<text x="120.31" y="319.22" textLength="3.49" lengthAdjust="spacingAndGlyphs">)</text>
</g>
<g class="xl">
<g transform="translate(138.65,332.75) rotate(-45)">
<text x="-61.75" textLength="6.53" lengthAdjust="spacingAndGlyphs">U</text>
<text x="-55.22" textLength="6.03" lengthAdjust="spacingAndGlyphs">K</text>
<text x="-49.19" textLength="6.03" lengthAdjust="spacingAndGlyphs">B</text>
<text x="-40.20" textLength="5.52" lengthAdjust="spacingAndGlyphs">F</text>
<text x="-34.68" textLength="2.51" lengthAdjust="spacingAndGlyphs">I</text>
<text x="-32.16" textLength="6.53" lengthAdjust="spacingAndGlyphs">N</text>
<text x="-25.63" textLength="6.03" lengthAdjust="spacingAndGlyphs">E</text>
<text x="-19.60" textLength="7.53" lengthAdjust="spacingAndGlyphs">M</text>
<text x="-12.07" textLength="6.03" lengthAdjust="spacingAndGlyphs">A</text>
<text x="-6.03" textLength="6.03" lengthAdjust="spacingAndGlyphs">P</text>
</g>
<g transform="translate(165.74,332.75) rotate(-45)">
<text x="-47.32" textLength="6.45" lengthAdjust="spacingAndGlyphs">U</text>
<text x="-40.88" textLength="5.96" lengthAdjust="spacingAndGlyphs">K</text>
<text x="-34.92" textLength="5.96" lengthAdjust="spacingAndGlyphs">B</text>
<text x="-26.04" textLength="5.96" lengthAdjust="spacingAndGlyphs">S</text>
<text x="-20.09" textLength="5.84" lengthAdjust="spacingAndGlyphs">u</text>
<text x="-14.25" textLength="5.96" lengthAdjust="spacingAndGlyphs">S</text>
<text x="-8.29" textLength="2.33" lengthAdjust="spacingAndGlyphs">i</text>
<text x="-5.96" textLength="5.96" lengthAdjust="spacingAndGlyphs">E</text>
</g>
<g transform="translate(192.83,332.75) rotate(-45)">
<text x="-108.13" textLength="6.37" lengthAdjust="spacingAndGlyphs">U</text>
<text x="-101.76" textLength="5.88" lengthAdjust="spacingAndGlyphs">K</text>
<text x="-95.88" textLength="5.88" lengthAdjust="spacingAndGlyphs">B</text>
<text x="-87.11" textLength="5.88" lengthAdjust="spacingAndGlyphs">P</text>
<text x="-81.23" textLength="5.77" lengthAdjust="spacingAndGlyphs">o</text>
<text x="-75.46" textLength="2.31" lengthAdjust="spacingAndGlyphs">l</text>
<text x="-73.15" textLength="5.19" lengthAdjust="spacingAndGlyphs">y</text>
<text x="-67.96" textLength="5.39" lengthAdjust="spacingAndGlyphs">F</text>
<text x="-62.58" textLength="5.77" lengthAdjust="spacingAndGlyphs">u</text>
<text x="-56.80" textLength="5.77" lengthAdjust="spacingAndGlyphs">n</text>
<text x="-48.15" textLength="6.06" lengthAdjust="spacingAndGlyphs">+</text>
<text x="-39.21" textLength="5.39" lengthAdjust="spacingAndGlyphs">F</text>
<text x="-33.82" textLength="2.45" lengthAdjust="spacingAndGlyphs">I</text>
<text x="-31.37" textLength="6.37" lengthAdjust="spacingAndGlyphs">N</text>
<text x="-25.00" textLength="5.88" lengthAdjust="spacingAndGlyphs">E</text>
<text x="-19.11" textLength="7.35" lengthAdjust="spacingAndGlyphs">M</text>
<text x="-11.77" textLength="5.88" lengthAdjust="spacingAndGlyphs">A</text>
<text x="-5.88" textLength="5.88" lengthAdjust="spacingAndGlyphs">P</text>
</g>
<g transform="translate(219.92,332.75) rotate(-45)">
<text x="-93.36" textLength="6.28" lengthAdjust="spacingAndGlyphs">U</text>
<text x="-87.07" textLength="5.80" lengthAdjust="spacingAndGlyphs">K</text>
<text x="-81.27" textLength="5.80" lengthAdjust="spacingAndGlyphs">B</text>
<text x="-72.62" textLength="5.80" lengthAdjust="spacingAndGlyphs">P</text>
<text x="-66.82" textLength="5.69" lengthAdjust="spacingAndGlyphs">o</text>
<text x="-61.13" textLength="2.27" lengthAdjust="spacingAndGlyphs">l</text>
<text x="-58.86" textLength="5.12" lengthAdjust="spacingAndGlyphs">y</text>
<text x="-53.74" textLength="5.31" lengthAdjust="spacingAndGlyphs">F</text>
<text x="-48.42" textLength="5.69" lengthAdjust="spacingAndGlyphs">u</text>
<text x="-42.73" textLength="5.69" lengthAdjust="spacingAndGlyphs">n</text>
<text x="-34.20" textLength="5.98" lengthAdjust="spacingAndGlyphs">+</text>
<text x="-25.37" textLength="5.80" lengthAdjust="spacingAndGlyphs">S</text>
<text x="-19.57" textLength="5.69" lengthAdjust="spacingAndGlyphs">u</text>
<text x="-13.88" textLength="5.80" lengthAdjust="spacingAndGlyphs">S</text>
<text x="-8.08" textLength="2.27" lengthAdjust="spacingAndGlyphs">i</text>
<text x="-5.80" textLength="5.80" lengthAdjust="spacingAndGlyphs">E</text>
</g>
<g transform="translate(247.01,332.75) rotate(-45)">
<text x="-63.17" textLength="6.57" lengthAdjust="spacingAndGlyphs">H</text>
<text x="-56.59" textLength="6.57" lengthAdjust="spacingAndGlyphs">R</text>
<text x="-50.02" textLength="6.57" lengthAdjust="spacingAndGlyphs">C</text>
<text x="-40.47" textLength="5.56" lengthAdjust="spacingAndGlyphs">F</text>
<text x="-34.91" textLength="2.53" lengthAdjust="spacingAndGlyphs">I</text>
<text x="-32.38" textLength="6.57" lengthAdjust="spacingAndGlyphs">N</text>
<text x="-25.80" textLength="6.07" lengthAdjust="spacingAndGlyphs">E</text>
<text x="-19.73" textLength="7.58" lengthAdjust="spacingAndGlyphs">M</text>
<text x="-12.14" textLength="6.07" lengthAdjust="spacingAndGlyphs">A</text>
<text x="-6.07" textLength="6.07" lengthAdjust="spacingAndGlyphs">P</text>
</g>
<g transform="translate(274.10,332.75) rotate(-45)">
<text x="-49.21" textLength="6.57" lengthAdjust="spacingAndGlyphs">H</text>
<text x="-42.64" textLength="6.57" lengthAdjust="spacingAndGlyphs">R</text>
<text x="-36.07" textLength="6.57" lengthAdjust="spacingAndGlyphs">C</text>
<text x="-26.53" textLength="6.07" lengthAdjust="spacingAndGlyphs">S</text>
<text x="-20.46" textLength="5.95" lengthAdjust="spacingAndGlyphs">u</text>
<text x="-14.51" textLength="6.07" lengthAdjust="spacingAndGlyphs">S</text>
<text x="-8.44" textLength="2.38" lengthAdjust="spacingAndGlyphs">i</text>
<text x="-6.07" textLength="6.07" lengthAdjust="spacingAndGlyphs">E</text>
</g>
<g transform="translate(301.19,332.75) rotate(-45)">
<text x="-108.82" textLength="6.35" lengthAdjust="spacingAndGlyphs">H</text>
<text x="-102.47" textLength="6.35" lengthAdjust="spacingAndGlyphs">R</text>
<text x="-96.11" textLength="6.35" lengthAdjust="spacingAndGlyphs">C</text>
<text x="-86.88" textLength="5.87" lengthAdjust="spacingAndGlyphs">P</text>
<text x="-81.02" textLength="5.76" lengthAdjust="spacingAndGlyphs">o</text>
<text x="-75.26" textLength="2.30" lengthAdjust="spacingAndGlyphs">l</text>
<text x="-72.96" textLength="5.17" lengthAdjust="spacingAndGlyphs">y</text>
<text x="-67.78" textLength="5.37" lengthAdjust="spacingAndGlyphs">F</text>
<text x="-62.41" textLength="5.76" lengthAdjust="spacingAndGlyphs">u</text>
<text x="-56.65" textLength="5.76" lengthAdjust="spacingAndGlyphs">n</text>
<text x="-48.02" textLength="6.04" lengthAdjust="spacingAndGlyphs">+</text>
<text x="-39.10" textLength="5.37" lengthAdjust="spacingAndGlyphs">F</text>
<text x="-33.73" textLength="2.44" lengthAdjust="spacingAndGlyphs">I</text>
<text x="-31.29" textLength="6.35" lengthAdjust="spacingAndGlyphs">N</text>
<text x="-24.93" textLength="5.87" lengthAdjust="spacingAndGlyphs">E</text>
<text x="-19.06" textLength="7.33" lengthAdjust="spacingAndGlyphs">M</text>
<text x="-11.74" textLength="5.87" lengthAdjust="spacingAndGlyphs">A</text>
<text x="-5.87" textLength="5.87" lengthAdjust="spacingAndGlyphs">P</text>
</g>
<g transform="translate(328.28,332.75) rotate(-45)">
<text x="-93.82" textLength="6.25" lengthAdjust="spacingAndGlyphs">H</text>
<text x="-87.57" textLength="6.25" lengthAdjust="spacingAndGlyphs">R</text>
<text x="-81.32" textLength="6.25" lengthAdjust="spacingAndGlyphs">C</text>
<text x="-72.24" textLength="5.77" lengthAdjust="spacingAndGlyphs">P</text>
<text x="-66.47" textLength="5.66" lengthAdjust="spacingAndGlyphs">o</text>
<text x="-60.81" textLength="2.26" lengthAdjust="spacingAndGlyphs">l</text>
<text x="-58.54" textLength="5.09" lengthAdjust="spacingAndGlyphs">y</text>
<text x="-53.45" textLength="5.29" lengthAdjust="spacingAndGlyphs">F</text>
<text x="-48.17" textLength="5.66" lengthAdjust="spacingAndGlyphs">u</text>
<text x="-42.50" textLength="5.66" lengthAdjust="spacingAndGlyphs">n</text>
<text x="-34.01" textLength="5.95" lengthAdjust="spacingAndGlyphs">+</text>
<text x="-25.24" textLength="5.77" lengthAdjust="spacingAndGlyphs">S</text>
<text x="-19.47" textLength="5.66" lengthAdjust="spacingAndGlyphs">u</text>
<text x="-13.81" textLength="5.77" lengthAdjust="spacingAndGlyphs">S</text>
<text x="-8.03" textLength="2.26" lengthAdjust="spacingAndGlyphs">i</text>
<text x="-5.77" textLength="5.77" lengthAdjust="spacingAndGlyphs">E</text>
</g>
<g transform="translate(355.37,332.75) rotate(-45)">
<text x="-98.99" textLength="2.46" lengthAdjust="spacingAndGlyphs">I</text>
<text x="-96.53" textLength="5.80" lengthAdjust="spacingAndGlyphs">n</text>
<text x="-90.72" textLength="3.47" lengthAdjust="spacingAndGlyphs">-</text>
<text x="-87.25" textLength="5.21" lengthAdjust="spacingAndGlyphs">s</text>
<text x="-82.04" textLength="5.80" lengthAdjust="spacingAndGlyphs">a</text>
<text x="-76.24" textLength="8.69" lengthAdjust="spacingAndGlyphs">m</text>
<text x="-67.55" textLength="5.80" lengthAdjust="spacingAndGlyphs">p</text>
<text x="-61.75" textLength="2.32" lengthAdjust="spacingAndGlyphs">l</text>
<text x="-59.43" textLength="5.80" lengthAdjust="spacingAndGlyphs">e</text>
<text x="-53.63" textLength="4.93" lengthAdjust="spacingAndGlyphs">L</text>
<text x="-48.70" textLength="6.40" lengthAdjust="spacingAndGlyphs">D</text>
<text x="-39.40" textLength="5.41" lengthAdjust="spacingAndGlyphs">F</text>
<text x="-33.99" textLength="2.46" lengthAdjust="spacingAndGlyphs">I</text>
<text x="-31.52" textLength="6.40" lengthAdjust="spacingAndGlyphs">N</text>
<text x="-25.12" textLength="5.91" lengthAdjust="spacingAndGlyphs">E</text>
<text x="-19.21" textLength="7.38" lengthAdjust="spacingAndGlyphs">M</text>
<text x="-11.83" textLength="5.91" lengthAdjust="spacingAndGlyphs">A</text>
<text x="-5.91" textLength="5.91" lengthAdjust="spacingAndGlyphs">P</text>
</g>
<g transform="translate(382.46,332.75) rotate(-45)">
<text x="-84.48" textLength="2.44" lengthAdjust="spacingAndGlyphs">I</text>
<text x="-82.05" textLength="5.74" lengthAdjust="spacingAndGlyphs">n</text>
<text x="-76.31" textLength="3.43" lengthAdjust="spacingAndGlyphs">-</text>
<text x="-72.88" textLength="5.16" lengthAdjust="spacingAndGlyphs">s</text>
<text x="-67.72" textLength="5.74" lengthAdjust="spacingAndGlyphs">a</text>
<text x="-61.99" textLength="8.59" lengthAdjust="spacingAndGlyphs">m</text>
<text x="-53.40" textLength="5.74" lengthAdjust="spacingAndGlyphs">p</text>
<text x="-47.66" textLength="2.29" lengthAdjust="spacingAndGlyphs">l</text>
<text x="-45.37" textLength="5.74" lengthAdjust="spacingAndGlyphs">e</text>
<text x="-39.64" textLength="4.87" lengthAdjust="spacingAndGlyphs">L</text>
<text x="-34.76" textLength="6.33" lengthAdjust="spacingAndGlyphs">D</text>
<text x="-25.57" textLength="5.85" lengthAdjust="spacingAndGlyphs">S</text>
<text x="-19.72" textLength="5.74" lengthAdjust="spacingAndGlyphs">u</text>
<text x="-13.98" textLength="5.85" lengthAdjust="spacingAndGlyphs">S</text>
<text x="-8.14" textLength="2.29" lengthAdjust="spacingAndGlyphs">i</text>
<text x="-5.85" textLength="5.85" lengthAdjust="spacingAndGlyphs">E</text>
</g>
<g transform="translate(409.55,332.75) rotate(-45)">
<text x="-145.67" textLength="2.44" lengthAdjust="spacingAndGlyphs">I</text>
<text x="-143.23" textLength="5.74" lengthAdjust="spacingAndGlyphs">n</text>
<text x="-137.49" textLength="3.44" lengthAdjust="spacingAndGlyphs">-</text>
<text x="-134.05" textLength="5.16" lengthAdjust="spacingAndGlyphs">s</text>
<text x="-128.89" textLength="5.74" lengthAdjust="spacingAndGlyphs">a</text>
<text x="-123.15" textLength="8.60" lengthAdjust="spacingAndGlyphs">m</text>
<text x="-114.54" textLength="5.74" lengthAdjust="spacingAndGlyphs">p</text>
<text x="-108.80" textLength="2.29" lengthAdjust="spacingAndGlyphs">l</text>
<text x="-106.51" textLength="5.74" lengthAdjust="spacingAndGlyphs">e</text>
<text x="-100.77" textLength="4.88" lengthAdjust="spacingAndGlyphs">L</text>
<text x="-95.88" textLength="6.34" lengthAdjust="spacingAndGlyphs">D</text>
<text x="-86.68" textLength="5.85" lengthAdjust="spacingAndGlyphs">P</text>
<text x="-80.82" textLength="5.74" lengthAdjust="spacingAndGlyphs">o</text>
<text x="-75.08" textLength="2.29" lengthAdjust="spacingAndGlyphs">l</text>
<text x="-72.79" textLength="5.16" lengthAdjust="spacingAndGlyphs">y</text>
<text x="-67.62" textLength="5.36" lengthAdjust="spacingAndGlyphs">F</text>
<text x="-62.26" textLength="5.74" lengthAdjust="spacingAndGlyphs">u</text>
<text x="-56.52" textLength="5.74" lengthAdjust="spacingAndGlyphs">n</text>
<text x="-47.91" textLength="6.03" lengthAdjust="spacingAndGlyphs">+</text>
<text x="-39.01" textLength="5.36" lengthAdjust="spacingAndGlyphs">F</text>
<text x="-33.65" textLength="2.44" lengthAdjust="spacingAndGlyphs">I</text>
<text x="-31.21" textLength="6.34" lengthAdjust="spacingAndGlyphs">N</text>
<text x="-24.87" textLength="5.85" lengthAdjust="spacingAndGlyphs">E</text>
<text x="-19.02" textLength="7.31" lengthAdjust="spacingAndGlyphs">M</text>
<text x="-11.71" textLength="5.85" lengthAdjust="spacingAndGlyphs">A</text>
<text x="-5.85" textLength="5.85" lengthAdjust="spacingAndGlyphs">P</text>
</g>
<g transform="translate(436.64,332.75) rotate(-45)">
<text x="-130.89" textLength="2.41" lengthAdjust="spacingAndGlyphs">I</text>
<text x="-128.47" textLength="5.68" lengthAdjust="spacingAndGlyphs">n</text>
<text x="-122.79" textLength="3.40" lengthAdjust="spacingAndGlyphs">-</text>
<text x="-119.39" textLength="5.11" lengthAdjust="spacingAndGlyphs">s</text>
<text x="-114.28" textLength="5.68" lengthAdjust="spacingAndGlyphs">a</text>
<text x="-108.59" textLength="8.51" lengthAdjust="spacingAndGlyphs">m</text>
<text x="-100.08" textLength="5.68" lengthAdjust="spacingAndGlyphs">p</text>
<text x="-94.40" textLength="2.27" lengthAdjust="spacingAndGlyphs">l</text>
<text x="-92.13" textLength="5.68" lengthAdjust="spacingAndGlyphs">e</text>
<text x="-86.45" textLength="4.83" lengthAdjust="spacingAndGlyphs">L</text>
<text x="-81.62" textLength="6.27" lengthAdjust="spacingAndGlyphs">D</text>
<text x="-72.51" textLength="5.79" lengthAdjust="spacingAndGlyphs">P</text>
<text x="-66.71" textLength="5.68" lengthAdjust="spacingAndGlyphs">o</text>
<text x="-61.03" textLength="2.27" lengthAdjust="spacingAndGlyphs">l</text>
<text x="-58.76" textLength="5.11" lengthAdjust="spacingAndGlyphs">y</text>
<text x="-53.65" textLength="5.31" lengthAdjust="spacingAndGlyphs">F</text>
<text x="-48.34" textLength="5.68" lengthAdjust="spacingAndGlyphs">u</text>
<text x="-42.66" textLength="5.68" lengthAdjust="spacingAndGlyphs">n</text>
<text x="-34.14" textLength="5.97" lengthAdjust="spacingAndGlyphs">+</text>
<text x="-25.33" textLength="5.79" lengthAdjust="spacingAndGlyphs">S</text>
<text x="-19.54" textLength="5.68" lengthAdjust="spacingAndGlyphs">u</text>
<text x="-13.86" textLength="5.79" lengthAdjust="spacingAndGlyphs">S</text>
<text x="-8.06" textLength="2.27" lengthAdjust="spacingAndGlyphs">i</text>
<text x="-5.79" textLength="5.79" lengthAdjust="spacingAndGlyphs">E</text>
</g>
<g transform="translate(463.73,332.75) rotate(-45)">
<text x="-138.78" textLength="6.35" lengthAdjust="spacingAndGlyphs">N</text>
<text x="-132.44" textLength="5.75" lengthAdjust="spacingAndGlyphs">o</text>
<text x="-123.82" textLength="4.89" lengthAdjust="spacingAndGlyphs">L</text>
<text x="-118.93" textLength="6.35" lengthAdjust="spacingAndGlyphs">D</text>
<text x="-109.71" textLength="3.44" lengthAdjust="spacingAndGlyphs">(</text>
<text x="-106.27" textLength="5.17" lengthAdjust="spacingAndGlyphs">s</text>
<text x="-101.10" textLength="2.30" lengthAdjust="spacingAndGlyphs">i</text>
<text x="-98.81" textLength="5.75" lengthAdjust="spacingAndGlyphs">n</text>
<text x="-93.06" textLength="5.75" lengthAdjust="spacingAndGlyphs">g</text>
<text x="-87.31" textLength="2.30" lengthAdjust="spacingAndGlyphs">l</text>
<text x="-85.01" textLength="5.75" lengthAdjust="spacingAndGlyphs">e</text>
<text x="-76.39" textLength="5.17" lengthAdjust="spacingAndGlyphs">v</text>
<text x="-71.22" textLength="5.75" lengthAdjust="spacingAndGlyphs">a</text>
<text x="-65.48" textLength="3.44" lengthAdjust="spacingAndGlyphs">r</text>
<text x="-62.03" textLength="2.30" lengthAdjust="spacingAndGlyphs">i</text>
<text x="-59.74" textLength="5.75" lengthAdjust="spacingAndGlyphs">a</text>
<text x="-53.99" textLength="5.75" lengthAdjust="spacingAndGlyphs">n</text>
<text x="-48.24" textLength="2.87" lengthAdjust="spacingAndGlyphs">t</text>
<text x="-45.37" textLength="3.44" lengthAdjust="spacingAndGlyphs">)</text>
<text x="-39.05" textLength="5.37" lengthAdjust="spacingAndGlyphs">F</text>
<text x="-33.69" textLength="2.44" lengthAdjust="spacingAndGlyphs">I</text>
<text x="-31.25" textLength="6.35" lengthAdjust="spacingAndGlyphs">N</text>
<text x="-24.90" textLength="5.86" lengthAdjust="spacingAndGlyphs">E</text>
<text x="-19.04" textLength="7.32" lengthAdjust="spacingAndGlyphs">M</text>
<text x="-11.72" textLength="5.86" lengthAdjust="spacingAndGlyphs">A</text>
<text x="-5.86" textLength="5.86" lengthAdjust="spacingAndGlyphs">P</text>
</g>
<g transform="translate(490.82,332.75) rotate(-45)">
<text x="-124.20" textLength="6.29" lengthAdjust="spacingAndGlyphs">N</text>
<text x="-117.92" textLength="5.70" lengthAdjust="spacingAndGlyphs">o</text>
<text x="-109.37" textLength="4.84" lengthAdjust="spacingAndGlyphs">L</text>
<text x="-104.53" textLength="6.29" lengthAdjust="spacingAndGlyphs">D</text>
<text x="-95.40" textLength="3.41" lengthAdjust="spacingAndGlyphs">(</text>
<text x="-91.99" textLength="5.12" lengthAdjust="spacingAndGlyphs">s</text>
<text x="-86.87" textLength="2.28" lengthAdjust="spacingAndGlyphs">i</text>
<text x="-84.59" textLength="5.70" lengthAdjust="spacingAndGlyphs">n</text>
<text x="-78.90" textLength="5.70" lengthAdjust="spacingAndGlyphs">g</text>
<text x="-73.20" textLength="2.28" lengthAdjust="spacingAndGlyphs">l</text>
<text x="-70.93" textLength="5.70" lengthAdjust="spacingAndGlyphs">e</text>
<text x="-62.39" textLength="5.12" lengthAdjust="spacingAndGlyphs">v</text>
<text x="-57.27" textLength="5.70" lengthAdjust="spacingAndGlyphs">a</text>
<text x="-51.57" textLength="3.41" lengthAdjust="spacingAndGlyphs">r</text>
<text x="-48.16" textLength="2.28" lengthAdjust="spacingAndGlyphs">i</text>
<text x="-45.88" textLength="5.70" lengthAdjust="spacingAndGlyphs">a</text>
<text x="-40.19" textLength="5.70" lengthAdjust="spacingAndGlyphs">n</text>
<text x="-34.49" textLength="2.85" lengthAdjust="spacingAndGlyphs">t</text>
<text x="-31.65" textLength="3.41" lengthAdjust="spacingAndGlyphs">)</text>
<text x="-25.39" textLength="5.81" lengthAdjust="spacingAndGlyphs">S</text>
<text x="-19.58" textLength="5.70" lengthAdjust="spacingAndGlyphs">u</text>
<text x="-13.89" textLength="5.81" lengthAdjust="spacingAndGlyphs">S</text>
<text x="-8.08" textLength="2.28" lengthAdjust="spacingAndGlyphs">i</text>
<text x="-5.81" textLength="5.81" lengthAdjust="spacingAndGlyphs">E</text>
</g>
<g transform="translate(517.91,332.75) rotate(-45)">
<text x="-184.58" textLength="6.28" lengthAdjust="spacingAndGlyphs">N</text>
<text x="-178.30" textLength="5.69" lengthAdjust="spacingAndGlyphs">o</text>
<text x="-169.77" textLength="4.84" lengthAdjust="spacingAndGlyphs">L</text>
<text x="-164.94" textLength="6.28" lengthAdjust="spacingAndGlyphs">D</text>
<text x="-155.81" textLength="3.41" lengthAdjust="spacingAndGlyphs">(</text>
<text x="-152.41" textLength="5.12" lengthAdjust="spacingAndGlyphs">s</text>
<text x="-147.29" textLength="2.27" lengthAdjust="spacingAndGlyphs">i</text>
<text x="-145.02" textLength="5.69" lengthAdjust="spacingAndGlyphs">n</text>
<text x="-139.33" textLength="5.69" lengthAdjust="spacingAndGlyphs">g</text>
<text x="-133.64" textLength="2.27" lengthAdjust="spacingAndGlyphs">l</text>
<text x="-131.37" textLength="5.69" lengthAdjust="spacingAndGlyphs">e</text>
<text x="-122.83" textLength="5.12" lengthAdjust="spacingAndGlyphs">v</text>
<text x="-117.72" textLength="5.69" lengthAdjust="spacingAndGlyphs">a</text>
<text x="-112.03" textLength="3.41" lengthAdjust="spacingAndGlyphs">r</text>
<text x="-108.62" textLength="2.27" lengthAdjust="spacingAndGlyphs">i</text>
<text x="-106.35" textLength="5.69" lengthAdjust="spacingAndGlyphs">a</text>
<text x="-100.66" textLength="5.69" lengthAdjust="spacingAndGlyphs">n</text>
<text x="-94.97" textLength="2.84" lengthAdjust="spacingAndGlyphs">t</text>
<text x="-92.13" textLength="3.41" lengthAdjust="spacingAndGlyphs">)</text>
<text x="-85.88" textLength="5.80" lengthAdjust="spacingAndGlyphs">P</text>
<text x="-80.08" textLength="5.69" lengthAdjust="spacingAndGlyphs">o</text>
<text x="-74.39" textLength="2.27" lengthAdjust="spacingAndGlyphs">l</text>
<text x="-72.12" textLength="5.12" lengthAdjust="spacingAndGlyphs">y</text>
<text x="-67.00" textLength="5.31" lengthAdjust="spacingAndGlyphs">F</text>
<text x="-61.69" textLength="5.69" lengthAdjust="spacingAndGlyphs">u</text>
<text x="-56.00" textLength="5.69" lengthAdjust="spacingAndGlyphs">n</text>
<text x="-47.47" textLength="5.97" lengthAdjust="spacingAndGlyphs">+</text>
<text x="-38.65" textLength="5.31" lengthAdjust="spacingAndGlyphs">F</text>
<text x="-33.34" textLength="2.42" lengthAdjust="spacingAndGlyphs">I</text>
<text x="-30.92" textLength="6.28" lengthAdjust="spacingAndGlyphs">N</text>
<text x="-24.64" textLength="5.80" lengthAdjust="spacingAndGlyphs">E</text>
<text x="-18.84" textLength="7.24" lengthAdjust="spacingAndGlyphs">M</text>
<text x="-11.60" textLength="5.80" lengthAdjust="spacingAndGlyphs">A</text>
<text x="-5.80" textLength="5.80" lengthAdjust="spacingAndGlyphs">P</text>
</g>
<g transform="translate(545.00,332.75) rotate(-45)">
<text x="-170.10" textLength="6.24" lengthAdjust="spacingAndGlyphs">N</text>
<text x="-163.86" textLength="5.65" lengthAdjust="spacingAndGlyphs">o</text>
<text x="-155.39" textLength="4.80" lengthAdjust="spacingAndGlyphs">L</text>
<text x="-150.59" textLength="6.24" lengthAdjust="spacingAndGlyphs">D</text>
<text x="-141.53" textLength="3.38" lengthAdjust="spacingAndGlyphs">(</text>
<text x="-138.15" textLength="5.08" lengthAdjust="spacingAndGlyphs">s</text>
<text x="-133.07" textLength="2.26" lengthAdjust="spacingAndGlyphs">i</text>
<text x="-130.81" textLength="5.65" lengthAdjust="spacingAndGlyphs">n</text>
<text x="-125.16" textLength="5.65" lengthAdjust="spacingAndGlyphs">g</text>
<text x="-119.51" textLength="2.26" lengthAdjust="spacingAndGlyphs">l</text>
<text x="-117.25" textLength="5.65" lengthAdjust="spacingAndGlyphs">e</text>
<text x="-108.78" textLength="5.08" lengthAdjust="spacingAndGlyphs">v</text>
<text x="-103.70" textLength="5.65" lengthAdjust="spacingAndGlyphs">a</text>
<text x="-98.05" textLength="3.38" lengthAdjust="spacingAndGlyphs">r</text>
<text x="-94.67" textLength="2.26" lengthAdjust="spacingAndGlyphs">i</text>
<text x="-92.41" textLength="5.65" lengthAdjust="spacingAndGlyphs">a</text>
<text x="-86.76" textLength="5.65" lengthAdjust="spacingAndGlyphs">n</text>
<text x="-81.11" textLength="2.82" lengthAdjust="spacingAndGlyphs">t</text>
<text x="-78.29" textLength="3.38" lengthAdjust="spacingAndGlyphs">)</text>
<text x="-72.08" textLength="5.76" lengthAdjust="spacingAndGlyphs">P</text>
<text x="-66.32" textLength="5.65" lengthAdjust="spacingAndGlyphs">o</text>
<text x="-60.67" textLength="2.26" lengthAdjust="spacingAndGlyphs">l</text>
<text x="-58.42" textLength="5.08" lengthAdjust="spacingAndGlyphs">y</text>
<text x="-53.34" textLength="5.27" lengthAdjust="spacingAndGlyphs">F</text>
<text x="-48.06" textLength="5.65" lengthAdjust="spacingAndGlyphs">u</text>
<text x="-42.41" textLength="5.65" lengthAdjust="spacingAndGlyphs">n</text>
<text x="-33.94" textLength="5.93" lengthAdjust="spacingAndGlyphs">+</text>
<text x="-25.19" textLength="5.76" lengthAdjust="spacingAndGlyphs">S</text>
<text x="-19.43" textLength="5.65" lengthAdjust="spacingAndGlyphs">u</text>
<text x="-13.78" textLength="5.76" lengthAdjust="spacingAndGlyphs">S</text>
<text x="-8.02" textLength="2.26" lengthAdjust="spacingAndGlyphs">i</text>
<text x="-5.76" textLength="5.76" lengthAdjust="spacingAndGlyphs">E</text>
</g>
</g>
<g transform="translate(9.00,258.00) rotate(-90)" font-size="11.5" fill="#2A2A2A">
<text x="0.00" textLength="7.27" lengthAdjust="spacingAndGlyphs">U</text>
<text x="7.27" textLength="6.59" lengthAdjust="spacingAndGlyphs">n</text>
<text x="13.86" textLength="2.63" lengthAdjust="spacingAndGlyphs">i</text>
<text x="16.49" textLength="6.59" lengthAdjust="spacingAndGlyphs">o</text>
<text x="23.08" textLength="6.59" lengthAdjust="spacingAndGlyphs">n</text>
<text x="32.96" textLength="5.92" lengthAdjust="spacingAndGlyphs">c</text>
<text x="38.89" textLength="6.59" lengthAdjust="spacingAndGlyphs">o</text>
<text x="45.48" textLength="6.59" lengthAdjust="spacingAndGlyphs">n</text>
<text x="52.07" textLength="5.92" lengthAdjust="spacingAndGlyphs">s</text>
<text x="57.99" textLength="6.59" lengthAdjust="spacingAndGlyphs">e</text>
<text x="64.58" textLength="6.59" lengthAdjust="spacingAndGlyphs">n</text>
<text x="71.17" textLength="5.92" lengthAdjust="spacingAndGlyphs">s</text>
<text x="77.09" textLength="6.59" lengthAdjust="spacingAndGlyphs">u</text>
<text x="83.68" textLength="5.92" lengthAdjust="spacingAndGlyphs">s</text>
<text x="92.90" textLength="6.72" lengthAdjust="spacingAndGlyphs">S</text>
<text x="99.62" textLength="7.27" lengthAdjust="spacingAndGlyphs">N</text>
<text x="106.89" textLength="6.72" lengthAdjust="spacingAndGlyphs">P</text>
<text x="113.61" textLength="5.92" lengthAdjust="spacingAndGlyphs">s</text>
<text x="122.82" textLength="3.95" lengthAdjust="spacingAndGlyphs">(</text>
<text x="126.77" textLength="2.63" lengthAdjust="spacingAndGlyphs">l</text>
<text x="129.40" textLength="6.59" lengthAdjust="spacingAndGlyphs">o</text>
<text x="135.99" textLength="5.92" lengthAdjust="spacingAndGlyphs">c</text>
<text x="141.91" textLength="6.59" lengthAdjust="spacingAndGlyphs">u</text>
<text x="148.50" textLength="5.92" lengthAdjust="spacingAndGlyphs">s</text>
<text x="157.72" textLength="6.59" lengthAdjust="spacingAndGlyphs">n</text>
<text x="164.31" textLength="6.59" lengthAdjust="spacingAndGlyphs">a</text>
<text x="170.90" textLength="9.87" lengthAdjust="spacingAndGlyphs">m</text>
<text x="180.77" textLength="6.59" lengthAdjust="spacingAndGlyphs">e</text>
<text x="187.35" textLength="3.95" lengthAdjust="spacingAndGlyphs">)</text>
</g>
<g class="lg">
<text class="t" x="573.7" y="111.8" textLength="99.6" lengthAdjust="spacingAndGlyphs">Fine-mapping type</text>
<circle cx="582.2" cy="124.0" r="2.45" fill="#000"/>
<text x="589.1" y="126.9" style="font-size:9.8px" textLength="48.7" lengthAdjust="spacingAndGlyphs">Statistical</text>
<rect x="580.25" y="139.15" width="4.1" height="4.1" fill="#000"/>
<text x="589.1" y="144.5" style="font-size:9.8px" textLength="54.5" lengthAdjust="spacingAndGlyphs">Functional</text>
<text class="t" x="575.8" y="185.6" textLength="46.5" lengthAdjust="spacingAndGlyphs">LD panel</text>
<circle cx="582.1" cy="196.1" r="2.5" fill="#7FD3E8"/>
<text x="589.2" y="199.9" textLength="19.6" lengthAdjust="spacingAndGlyphs">HRC</text>
<circle cx="582.2" cy="213.6" r="2.5" fill="#C8C8EF"/>
<text x="589.0" y="217.1" textLength="56.3" lengthAdjust="spacingAndGlyphs">In-sampleLD</text>
<circle cx="582.2" cy="230.9" r="2.5" fill="#EEC4EE"/>
<text x="589.1" y="234.4" textLength="18.5" lengthAdjust="spacingAndGlyphs">UKB</text>
<circle cx="582.2" cy="246.2" r="2.5" fill="#7A7279"/>
<text x="589.0" y="249.3" textLength="96.5" lengthAdjust="spacingAndGlyphs">No LD (single variant)</text>
<text class="t" x="578.2" y="276.9" textLength="50.5" lengthAdjust="spacingAndGlyphs">PIP range</text>
<circle cx="581.8" cy="292.1" r="4.15" fill="#000"/>
<text x="592.1" y="295.8" textLength="68.3" lengthAdjust="spacingAndGlyphs">0.5 &lt; PIP ≤ 0.95</text>
<circle cx="581.8" cy="309.2" r="5.1" fill="#000"/>
<text x="592.3" y="312.5" textLength="43.8" lengthAdjust="spacingAndGlyphs">PIP &gt; 0.95</text>
</g>
</svg>
</body></html>
